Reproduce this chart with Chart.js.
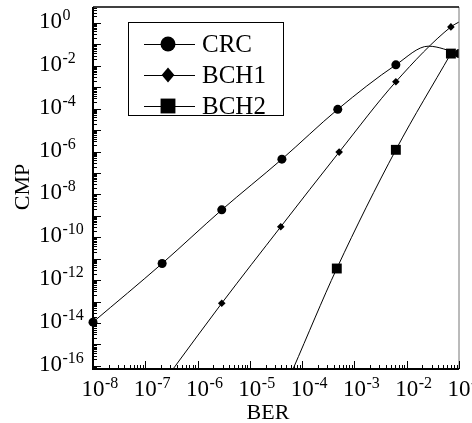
<!DOCTYPE html>
<html>
<head>
<meta charset="utf-8">
<script src="https://cdn.jsdelivr.net/npm/chart.js@4.4.1/dist/chart.umd.min.js"></script>
<style>
  html, body { margin: 0; padding: 0; background: #fff; }
  canvas { display: block; }
</style>
</head>
<body>
<canvas id="chart" width="472" height="423"></canvas>
<script>
const SERIES = ['CRC', 'BCH1', 'BCH2']

// marked points
const crcBer  = [1e-8, 2.1e-7, 2.9e-6, 4.1e-5, 4.8e-4, 6.2e-3, 1e-1]
const crcCmp  = [1.1e-14, 6.0e-12, 1.9e-9, 4.4e-7, 9.3e-5, 1.1e-2, 3.7e-2]
const bch1Ber = [2.9e-6, 3.9e-5, 5.1e-4, 6.2e-3, 7.0e-2]
const bch1Cmp = [8.4e-14, 3.1e-10, 9.4e-7, 1.8e-3, 0.65]
const bch2Ber = [4.6e-4, 6.2e-3, 7.0e-2]
const bch2Cmp = [3.5e-12, 1.2e-6, 3.7e-2]

// points on the curves without a marker (axis crossings, CRC peak, BCH1 end)
const crcLineBer  = [2.6e-2]
const crcLineCmp  = [8.2e-2]
const bch1LineBer = [3.4e-7, 1e-1]
const bch1LineCmp = [7.2e-17, 1.1]
const bch2LineBer = [6.7e-5]
const bch2LineCmp = [7.2e-17]

const berTicks = [1e-8, 1e-7, 1e-6, 1e-5, 1e-4, 1e-3, 1e-2, 1e-1]
const cmpTicks = [1e0, 1e-2, 1e-4, 1e-6, 1e-8, 1e-10, 1e-12, 1e-14, 1e-16]

const BER_MIN = 1e-8, BER_MAX = 1e-1
const CMP_MIN = 7.2e-17, CMP_MAX = 5.5

const FONT = "'Liberation Serif', 'Times New Roman', serif"

function points(ber, cmp, lineBer, lineCmp) {
  const marked = ber.map((x, i) => ({ x, y: cmp[i], m: true }))
  const plain  = lineBer.map((x, i) => ({ x, y: lineCmp[i], m: false }))
  return marked.concat(plain).sort((a, b) => a.x - b.x)
}

const STYLES = [
  { pointStyle: 'circle',  radius: 4.5, legendRadius: 7.5 },
  { pointStyle: 'rectRot', radius: 3.8, legendRadius: 7.5 },
  { pointStyle: 'rect',    radius: 7,   legendRadius: 10.5 },
]

function dataset(i, data, clip) {
  const st = STYLES[i]
  return {
    label: SERIES[i],
    data,
    borderColor: '#000',
    backgroundColor: '#000',
    borderWidth: 1,
    pointStyle: st.pointStyle,
    pointRadius: ctx => (ctx.raw && ctx.raw.m ? st.radius : 0),
    pointBorderWidth: 0,
    cubicInterpolationMode: 'monotone',
    clip
  }
}

function pow10(ctx, exp, x, y, mode) {
  ctx.font = `23px ${FONT}`
  const w = ctx.measureText('10').width
  const left = mode === 'x' ? x - w / 2 : x
  ctx.textAlign = 'left'
  ctx.textBaseline = 'alphabetic'
  ctx.fillText('10', left, y)
  ctx.font = `16px ${FONT}`
  ctx.fillText(String(exp), left + w + 0.5, y - 8)
}

const axesPlugin = {
  id: 'axes',
  afterDatasetsDraw(chart) {
    const { ctx, chartArea: a, scales: { x, y } } = chart
    ctx.save()
    ctx.fillStyle = '#000'
    ctx.strokeStyle = '#000'

    // frame
    ctx.lineWidth = 1
    ctx.strokeStyle = '#777'
    ctx.beginPath(); ctx.moveTo(a.right, a.top); ctx.lineTo(a.right, a.bottom); ctx.stroke()
    ctx.strokeStyle = '#000'
    ctx.lineWidth = 1.5
    ctx.beginPath(); ctx.moveTo(a.left, a.top); ctx.lineTo(a.right, a.top); ctx.stroke()
    ctx.lineWidth = 2
    ctx.beginPath()
    ctx.moveTo(a.left, a.top); ctx.lineTo(a.left, a.bottom); ctx.lineTo(a.right, a.bottom)
    ctx.stroke()

    // ticks
    ctx.lineWidth = 1
    ctx.beginPath()
    for (let k = -17; k <= 0; k++) {
      for (let m = 1; m <= 9; m++) {
        const v = m * Math.pow(10, k)
        if (v < CMP_MIN || v > CMP_MAX) continue
        const py = Math.round(y.getPixelForValue(v)) + 0.5
        ctx.moveTo(a.left, py); ctx.lineTo(a.left + (m === 1 ? 8 : 4), py)
      }
    }
    for (let k = -8; k <= -1; k++) {
      for (let m = 1; m <= 9; m++) {
        const v = m * Math.pow(10, k)
        if (v < BER_MIN || v > BER_MAX * 1.0001) continue
        const px = Math.round(x.getPixelForValue(v)) + 0.5
        ctx.moveTo(px, a.bottom); ctx.lineTo(px, a.bottom - (m === 1 ? 8 : 4))
      }
    }
    ctx.stroke()

    // tick labels
    berTicks.forEach(v => pow10(ctx, Math.round(Math.log10(v)), x.getPixelForValue(v), 396, 'x'))
    cmpTicks.forEach(v => pow10(ctx, Math.round(Math.log10(v)), 39, y.getPixelForValue(v) + 5, 'y'))

    // axis titles
    ctx.font = `22px ${FONT}`
    ctx.textAlign = 'center'
    ctx.textBaseline = 'alphabetic'
    ctx.fillText('BER', 268, 419)
    ctx.save()
    ctx.translate(29, 187)
    ctx.rotate(-Math.PI / 2)
    ctx.fillText('CMP', 0, 0)
    ctx.restore()

    ctx.restore()
  }
}

function marker(ctx, style, r, cx, cy) {
  ctx.beginPath()
  if (style === 'circle') {
    ctx.arc(cx, cy, r, 0, Math.PI * 2)
  } else if (style === 'rectRot') {
    ctx.moveTo(cx, cy - r); ctx.lineTo(cx + r * 0.85, cy); ctx.lineTo(cx, cy + r); ctx.lineTo(cx - r * 0.85, cy)
    ctx.closePath()
  } else {
    const s = r * Math.SQRT1_2
    ctx.rect(cx - s, cy - s, 2 * s, 2 * s)
  }
  ctx.fill()
}

const legendPlugin = {
  id: 'boxLegend',
  afterDraw(chart) {
    const { ctx } = chart
    ctx.save()
    ctx.fillStyle = '#fff'
    ctx.fillRect(128, 22, 155, 93)
    ctx.strokeStyle = '#000'
    ctx.lineWidth = 1
    ctx.strokeRect(128.5, 22.5, 155, 93)
    ctx.fillStyle = '#000'
    ctx.font = `25px ${FONT}`
    ctx.textAlign = 'left'
    ctx.textBaseline = 'middle'
    chart.data.datasets.forEach((ds, i) => {
      const cy = 44 + i * 31
      ctx.beginPath(); ctx.moveTo(144, cy + 0.5); ctx.lineTo(195, cy + 0.5); ctx.stroke()
      marker(ctx, STYLES[i].pointStyle, STYLES[i].legendRadius, 168, cy)
      ctx.fillText(ds.label, 202, cy + 1)
    })
    ctx.restore()
  }
}

new Chart(document.getElementById('chart'), {
  type: 'line',
  data: {
    datasets: [
      dataset(0, points(crcBer, crcCmp, crcLineBer, crcLineCmp), { left: 6, top: 0, right: 0, bottom: 0 }),
      dataset(1, points(bch1Ber, bch1Cmp, bch1LineBer, bch1LineCmp), 0),
      dataset(2, points(bch2Ber, bch2Cmp, bch2LineBer, bch2LineCmp), 0),
    ]
  },
  options: {
    responsive: false,
    animation: false,
    devicePixelRatio: 1,
    layout: { padding: { left: 93, right: 13, top: 5, bottom: 54 } },
    plugins: { legend: { display: false }, tooltip: { enabled: false } },
    scales: {
      x: { type: 'logarithmic', min: BER_MIN, max: BER_MAX, display: false },
      y: { type: 'logarithmic', min: CMP_MIN, max: CMP_MAX, display: false }
    }
  },
  plugins: [axesPlugin, legendPlugin]
})
</script>
</body>
</html>
